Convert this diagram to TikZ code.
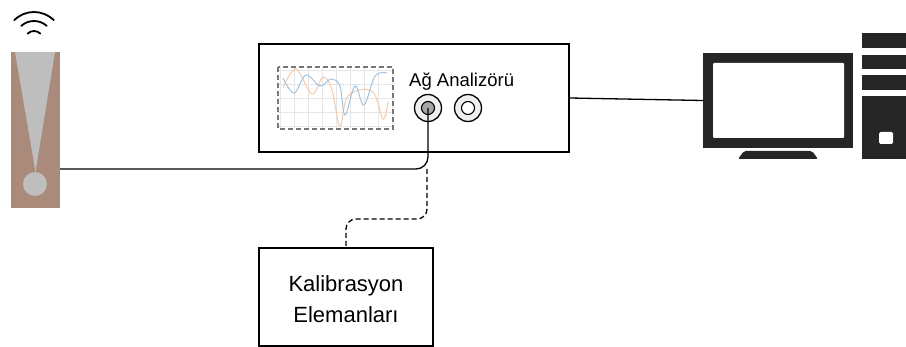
\documentclass[tikz,border=0pt]{standalone}
\usepackage{fontspec}
\setmainfont{Liberation Sans}
\definecolor{antbrown}{RGB}{170,138,122}
\definecolor{antgray}{RGB}{190,190,190}
\definecolor{pcdark}{RGB}{38,38,38}
\definecolor{portfill}{RGB}{238,238,238}
\definecolor{portcore}{RGB}{166,166,166}
\definecolor{traceblue}{RGB}{160,196,228}
\definecolor{traceorange}{RGB}{248,200,170}
\definecolor{gridgray}{RGB}{230,230,230}
\definecolor{framegray}{RGB}{120,120,120}
\begin{document}
\begin{tikzpicture}[x=1pt,y=-1pt,
  box/.style={draw=black,line width=1.3pt,fill=white,inner sep=0pt},
  port/.style={circle,draw=black,line width=1.3pt,fill=portfill,inner sep=0pt,minimum size=27pt},
  core/.style={circle,draw=black,line width=1.1pt,inner sep=0pt,minimum size=13pt},
  cable/.style={line width=1.3pt,rounded corners=12pt},
  calline/.style={line width=1.3pt,dash pattern=on 5pt off 3pt,rounded corners=10pt},
  wave/.style={line width=1.8pt,line cap=round},
  lbl/.style={inner sep=0pt}]
\useasboundingbox (0,0) rectangle (906,347);

% antenna
\node[fill=antbrown,inner sep=0pt,minimum width=49pt,minimum height=156pt] (antenna) at (35.5,130) {};
\fill[antgray] (15,52) -- (55,52) -- (35.5,172) -- cycle;
\fill[antgray] (35,184) circle (12);
\draw[wave] (34,40) ++(225:28) arc (225:315:28);
\draw[wave] (34,40) ++(228:19) arc (228:312:19);
\draw[wave] (34,40) ++(225:9) arc (225:315:9);

% network analyzer
\node[box,minimum width=310pt,minimum height=108pt] (analyzer) at (414,98) {};
\draw[gridgray,line width=0.5pt] (278,67) grid[step=14pt] (393,129);
\draw[traceorange,line width=1pt] plot[smooth,tension=0.6] coordinates {
  (283,88) (296,69) (312,94) (323,77) (332,90) (340,126) (348,96) (372,91) (383,119) (388,102)};
\draw[traceblue,line width=1pt] plot[smooth,tension=0.6] coordinates {
  (283,78) (294,93) (306,75) (320,86) (331,79) (340,86) (345,115) (355,86) (364,105) (375,76) (387,73)};
\draw[framegray,line width=2pt,dash pattern=on 5pt off 3pt] (278,67) rectangle (393,129);
\node[lbl,anchor=base west,font=\fontsize{18.5}{22}\selectfont] (title) at (409,87) {Ağ Analizörü};
\node[port] (port1) at (428,108) {};
\node[core,fill=portcore] (core1) at (428,108) {};
\node[port] (port2) at (468,108) {};
\node[core,fill=white] (core2) at (468,108) {};

% computer
\node[fill=pcdark,inner sep=0pt,minimum width=150pt,minimum height=95pt] (monitor) at (778,100.5) {};
\fill[white,rounded corners=1pt] (713,63) rectangle (844,138);
\fill[pcdark,rounded corners=2pt] (738,159) -- (744,151) -- (812,151) -- (818,159) -- cycle;
\fill[pcdark] (862,33) rectangle (906,48);
\fill[pcdark] (862,55) rectangle (906,69);
\fill[pcdark] (862,75) rectangle (906,90);
\fill[pcdark] (862,96) rectangle (906,159);
\fill[white,rounded corners=1.5pt] (879,132) rectangle (893,144);

% calibration standards
\node[box,minimum width=174pt,minimum height=98pt] (calib) at (346,297) {};
\node[lbl,align=center,font=\fontsize{22}{31}\selectfont] (calibtext) at (346,299.5) {Kalibrasyon\\Elemanları};

% connections
\coordinate (feed) at (60,169);
\coordinate (bend) at (427,169);
\coordinate (dashmid) at (427,219);
\draw[cable] (core1.center) |- (feed);
\draw[calline] (bend) -- (dashmid) -| (calib.north);
\draw[line width=1.3pt] (analyzer.east) -- (monitor.west);
\end{tikzpicture}
\end{document}
